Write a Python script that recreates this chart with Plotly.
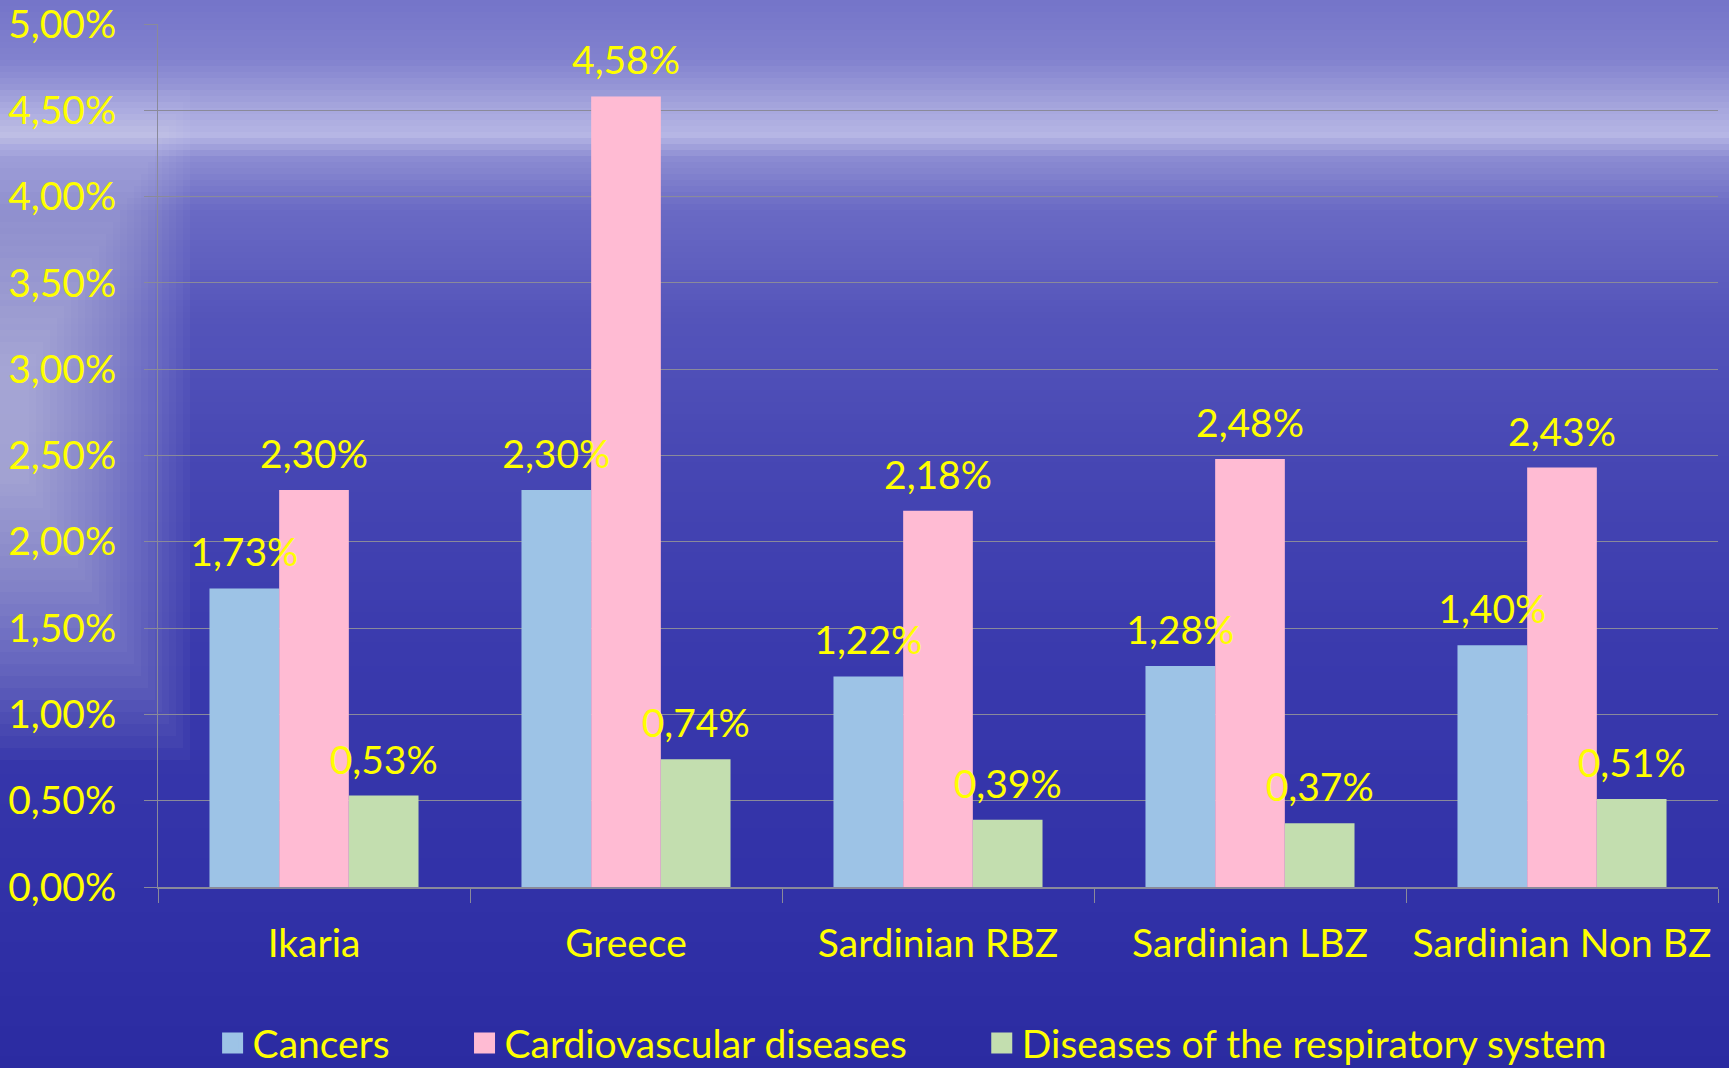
import plotly.graph_objects as go

# ---------------- data ----------------
categories = ["Ikaria", "Greece", "Sardinian RBZ", "Sardinian LBZ", "Sardinian Non BZ"]
cancers = [0.0173, 0.0230, 0.0122, 0.0128, 0.0140]
cardio = [0.0230, 0.0458, 0.0218, 0.0248, 0.0243]
resp = [0.0053, 0.0074, 0.0039, 0.0037, 0.0051]
series_names = ["Cancers", "Cardiovascular diseases", "Diseases of the respiratory system"]
y_ticks = [0, 0.005, 0.01, 0.015, 0.02, 0.025, 0.03, 0.035, 0.04, 0.045, 0.05]

# ---------------- style ----------------
W, H = 1729, 1068
ML, MR, MT, MB = 158, 11, 24, 181
colors = ["#9DC3E6", "#FFBBD3", "#C3DEAF"]
YELLOW = "#FFFF00"
FONT = "Lato"
FS = 39
GRID = "#8a8a9a"
Y_MAX = 0.05
PW, PH = W - ML - MR, H - MT - MB
LABEL_LIFT = 11 / PH * Y_MAX          # lift data labels ~11px above the default position
legend_pad = ["\u00a0" * 7, "\u00a0" * 7, ""]

fig = go.Figure()
for name, vals, col, og in zip(series_names, [cancers, cardio, resp], colors, ["a", "b", "c"]):
    fig.add_trace(go.Bar(x=categories, y=vals, name=name, showlegend=False,
                         marker=dict(color=col, line=dict(width=0)), offsetgroup=og))
# label layer drawn on top of all bars
for name, vals, og in zip(series_names, [cancers, cardio, resp], ["a", "b", "c"]):
    fig.add_trace(go.Bar(x=categories, y=vals, base=LABEL_LIFT, name=name, showlegend=False,
                         offsetgroup=og,
                         marker=dict(color="rgba(0,0,0,0)", line=dict(width=0)),
                         texttemplate="%{y:.2%}", textposition="outside", constraintext="none",
                         cliponaxis=False, hoverinfo="skip",
                         textfont=dict(color=YELLOW, size=FS, family=FONT)))
# legend entries (square swatches)
for name, col, pad in zip(series_names, colors, legend_pad):
    fig.add_trace(go.Scatter(x=[None], y=[None], mode="markers", name=name + pad,
                             marker=dict(symbol="square", size=16, color=col,
                                         line=dict(color=col, width=5))))

# ---------------- background (decorative sea/sky gradient) ----------------
def hex2rgb(h):
    h = h.lstrip("#")
    return tuple(int(h[i:i + 2], 16) for i in (0, 2, 4))

stops = [(0, "#7474c9"), (60, "#8282ce"), (108, "#a6a6dd"), (135, "#b6b6e5"), (158, "#8c8cd2"),
         (210, "#6a6ac4"), (320, "#5454ba"), (470, "#4646b3"), (650, "#3a3aad"),
         (900, "#3131a7"), (1068, "#2b2ba1")]

def color_at(y):
    for (y0, c0), (y1, c1) in zip(stops[:-1], stops[1:]):
        if y0 <= y <= y1:
            t = (y - y0) / (y1 - y0)
            a, b = hex2rgb(c0), hex2rgb(c1)
            return "rgb(%d,%d,%d)" % tuple(round(a[i] + (b[i] - a[i]) * t) for i in range(3))
    return stops[-1][1]

def px2x(x):
    return (x - ML) / PW
def px2y(y):
    return (H - MB - y) / PH

shapes = []
step = 6
for y in range(0, H, step):
    shapes.append(dict(type="rect", xref="paper", yref="paper", layer="below",
                       x0=px2x(0), x1=px2x(W), y0=px2y(y), y1=px2y(y + step + 1),
                       fillcolor=color_at(y + step / 2), line=dict(width=0)))
# left-side sun glare
for i in range(24):
    shapes.append(dict(type="rect", xref="paper", yref="paper", layer="below",
                       x0=px2x(0), x1=px2x(190 - i * 7), y0=px2y(90 + i * 12), y1=px2y(760 - i * 12),
                       fillcolor="rgba(255,255,255,0.03)", line=dict(width=0)))

fig.update_layout(
    width=W, height=H,
    margin=dict(l=ML, r=MR, t=MT, b=MB, autoexpand=False),
    paper_bgcolor="#3535aa",
    plot_bgcolor="rgba(0,0,0,0)",
    separators=", ",
    barmode="group",
    bargap=0.33,
    bargroupgap=0,
    font=dict(family=FONT, size=FS, color=YELLOW),
    shapes=shapes,
    showlegend=True,
    legend=dict(orientation="h", x=0.035, xanchor="left", y=-0.181, yanchor="middle",
                font=dict(family=FONT, size=FS, color=YELLOW), bgcolor="rgba(0,0,0,0)",
                traceorder="normal", itemsizing="trace"),
    xaxis=dict(showgrid=False, showline=True, linecolor=GRID, linewidth=1.5,
               ticks="outside", tickson="boundaries", ticklen=14, tickcolor=GRID,
               ticklabelstandoff=21, tickfont=dict(family=FONT, size=FS, color=YELLOW)),
    yaxis=dict(range=[0, Y_MAX], tickvals=y_ticks, tickformat=".2%", showgrid=True,
               gridcolor=GRID, gridwidth=1, showline=True, linecolor=GRID, linewidth=1,
               ticks="outside", ticklen=13, tickcolor=GRID, ticklabelstandoff=20,
               ticklabeloverflow="allow",
               zeroline=False, tickfont=dict(family=FONT, size=FS, color=YELLOW)),
)

fig.write_html("out.html", config={"displayModeBar": False},
               post_script="document.body.style.margin='0';")
